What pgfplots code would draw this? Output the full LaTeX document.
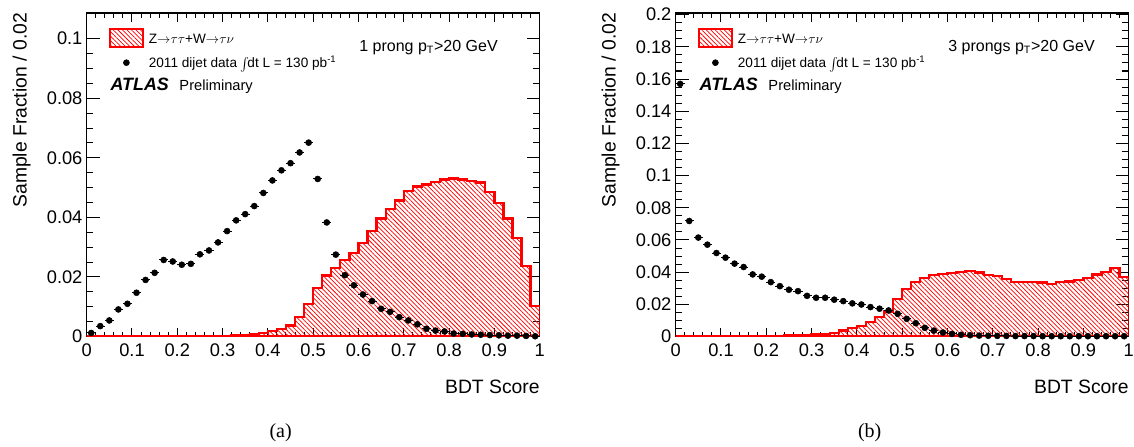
\documentclass[border=0pt]{standalone}
\usepackage{fontspec}
\setmainfont{Liberation Sans}
\newfontfamily\seriffont{Liberation Serif}
\usepackage{pgfplots}
\pgfplotsset{compat=1.18}
\usetikzlibrary{patterns.meta}

\pgfplotsset{
  atlas/.style={
    scale only axis, width=339.75pt, height=242.6pt,
    anchor=south west,
    xmin=0, xmax=1, ymin=0,
    xtick={0,0.1,0.2,0.3,0.4,0.5,0.6,0.7,0.8,0.9,1},
    minor x tick num=4, minor y tick num=3,
    tick align=inside,
    xtick pos=both, ytick pos=both,
    axis line style={line width=1.1pt},
    tick style={line width=0.75pt, black},
    xtick style={/pgfplots/major tick length=6.75pt,/pgfplots/minor tick length=3.4pt},
    ytick style={/pgfplots/major tick length=9.75pt,/pgfplots/minor tick length=4.9pt},
    scaled y ticks=false, scaled x ticks=false,
    /pgf/number format/fixed, /pgf/number format/precision=2,
    /pgf/number format/assume math mode=true,
    tick label style={font=\fontsize{13.7pt}{16pt}\selectfont},
    xticklabel style={inner sep=0pt, yshift=-5.25pt},
    yticklabel style={inner sep=0pt, xshift=-3pt},
    legend style={at={(0.0499,0.9527)}, anchor=north west, draw=none, fill=none,
      inner sep=0pt, outer sep=0pt, row sep=7.3pt, column sep=4pt,
      font=\fontsize{10.2pt}{12pt}\selectfont,
      nodes={inner sep=0pt, text height=7.3pt, text depth=0pt}},
    legend cell align=left,
  },
  hist/.style={const plot, draw=red, line width=1.7pt,
    pattern={Lines[angle=-45,distance=2.4pt,line width=0.55pt]}, pattern color=red,
    legend image code/.code={\draw[##1, line width=1.5pt] (0pt,-6.65pt) rectangle (24.2pt,6.65pt);}},
  dat/.style={only marks, mark=*, mark size=2.25pt, black,
    error bars/.cd, x dir=both, x fixed=0.01, error mark=none,
    error bar style={line width=0.75pt, black}, /pgfplots/.cd,
    legend image code/.code={\draw[mark repeat=2,mark phase=2,##1] plot coordinates {(0pt,0pt) (12.1pt,0pt) (24.2pt,0pt)};}},
}

\tikzset{lbl/.style={inner sep=0pt, outer sep=0pt}}
\newcommand{\sigtext}{Z${\rightarrow}\tau\tau$+W${\rightarrow}\tau\nu$}
\newcommand{\dattext}{2011 dijet data \raisebox{-0.15ex}{\large$\int$}\!dt L = 130 pb\textsuperscript{-1}}

\begin{document}
\begin{tikzpicture}
\useasboundingbox (-65pt,-82.1pt) rectangle (785.5pt,252.4pt);

% ---------------- (a) 1 prong ----------------
\begin{axis}[atlas, at={(0pt,0pt)}, ymax=0.1086,
  ytick={0,0.02,0.04,0.06,0.08,0.1}]
\addplot[hist] coordinates {
(0.00,0.0001) (0.02,0.0001) (0.04,0.0001) (0.06,0.0001) (0.08,0.0001)
(0.10,0.0001) (0.12,0.0001) (0.14,0.0001) (0.16,0.0001) (0.18,0.0001)
(0.20,0.0001) (0.22,0.0001) (0.24,0.0001) (0.26,0.0002) (0.28,0.0002)
(0.30,0.0003) (0.32,0.0004) (0.34,0.0006) (0.36,0.0008) (0.38,0.0012)
(0.40,0.0018) (0.42,0.0026) (0.44,0.0037) (0.46,0.0065) (0.48,0.0108)
(0.50,0.0164) (0.52,0.0205) (0.54,0.0231) (0.56,0.0258) (0.58,0.0281)
(0.60,0.0315) (0.62,0.0355) (0.64,0.0396) (0.66,0.0427) (0.68,0.0457)
(0.70,0.0488) (0.72,0.0504) (0.74,0.0510) (0.76,0.0519) (0.78,0.0527)
(0.80,0.0531) (0.82,0.0527) (0.84,0.0521) (0.86,0.0517) (0.88,0.0486)
(0.90,0.0449) (0.92,0.0396) (0.94,0.0332) (0.96,0.0238) (0.98,0.0103)
(1.00,0.0103)} \closedcycle;
\addlegendentry{\sigtext}
\addplot[dat] coordinates {
(0.01,0.0012) (0.03,0.0035) (0.05,0.0054) (0.07,0.0091) (0.09,0.0110)
(0.11,0.0147) (0.13,0.0190) (0.15,0.0214) (0.17,0.0257) (0.19,0.0252)
(0.21,0.0241) (0.23,0.0244) (0.25,0.0276) (0.27,0.0289) (0.29,0.0316)
(0.31,0.0354) (0.33,0.0390) (0.35,0.0411) (0.37,0.0438) (0.39,0.0482)
(0.41,0.0524) (0.43,0.0558) (0.45,0.0582) (0.47,0.0618) (0.49,0.0651)
(0.51,0.0529) (0.53,0.0383) (0.55,0.0275) (0.57,0.0206) (0.59,0.0172)
(0.61,0.0141) (0.63,0.0119) (0.65,0.0093) (0.67,0.0083) (0.69,0.0065)
(0.71,0.0054) (0.73,0.0041) (0.75,0.0026) (0.77,0.0020) (0.79,0.0017)
(0.81,0.0010) (0.83,0.0009) (0.85,0.0007) (0.87,0.0006) (0.89,0.0005)
(0.91,0.0004) (0.93,0.0003) (0.95,0.0003) (0.97,0.0002) (0.99,0.0001)};
\addlegendentry{\dattext}
\end{axis}

% ---------------- (b) 3 prongs ----------------
\begin{axis}[atlas, at={(441.75pt,0pt)}, ymax=0.201,
  ytick={0,0.02,0.04,0.06,0.08,0.1,0.12,0.14,0.16,0.18,0.2}]
\addplot[hist] coordinates {
(0.00,0.0002) (0.02,0.0002) (0.04,0.0002) (0.06,0.0002) (0.08,0.0002)
(0.10,0.0002) (0.12,0.0002) (0.14,0.0002) (0.16,0.0003) (0.18,0.0003)
(0.20,0.0004) (0.22,0.0005) (0.24,0.0006) (0.26,0.0008) (0.28,0.0010)
(0.30,0.0013) (0.32,0.0017) (0.34,0.0023) (0.36,0.0037) (0.38,0.0052)
(0.40,0.0067) (0.42,0.0089) (0.44,0.0120) (0.46,0.0156) (0.48,0.0231)
(0.50,0.0297) (0.52,0.0338) (0.54,0.0366) (0.56,0.0382) (0.58,0.0390)
(0.60,0.0394) (0.62,0.0403) (0.64,0.0405) (0.66,0.0398) (0.68,0.0382)
(0.70,0.0374) (0.72,0.0357) (0.74,0.0338) (0.76,0.0338) (0.78,0.0338)
(0.80,0.0336) (0.82,0.0328) (0.84,0.0340) (0.86,0.0342) (0.88,0.0353)
(0.90,0.0366) (0.92,0.0386) (0.94,0.0403) (0.96,0.0426) (0.98,0.0370)
(1.00,0.0370)} \closedcycle;
\addlegendentry{\sigtext}
\addplot[dat] coordinates {
(0.01,0.1570) (0.03,0.0718) (0.05,0.0615) (0.07,0.0571) (0.09,0.0519)
(0.11,0.0490) (0.13,0.0453) (0.15,0.0432) (0.17,0.0386) (0.19,0.0372)
(0.21,0.0338) (0.23,0.0313) (0.25,0.0291) (0.27,0.0282) (0.29,0.0253)
(0.31,0.0241) (0.33,0.0241) (0.35,0.0229) (0.37,0.0220) (0.39,0.0206)
(0.41,0.0199) (0.43,0.0183) (0.45,0.0173) (0.47,0.0162) (0.49,0.0141)
(0.51,0.0110) (0.53,0.0083) (0.55,0.0054) (0.57,0.0037) (0.59,0.0025)
(0.61,0.0016) (0.63,0.0011) (0.65,0.0008) (0.67,0.0006) (0.69,0.0005)
(0.71,0.0004) (0.73,0.0004) (0.75,0.0003) (0.77,0.0003) (0.79,0.0003)
(0.81,0.0002) (0.83,0.0002) (0.85,0.0002) (0.87,0.0002) (0.89,0.0002)
(0.91,0.0002) (0.93,0.0002) (0.95,0.0002) (0.97,0.0002) (0.99,0.0002)};
\addlegendentry{\dattext}
\end{axis}

% ---------------- texts ----------------
\foreach \dx/\txt/\cap in {0pt/1 prong/(a), 441.75pt/3 prongs/(b)}{
  \begin{scope}[xshift=\dx]
  \node[lbl, rotate=90, anchor=base east, font=\fontsize{14.5pt}{17pt}\selectfont]
    at (-45pt,242.6pt) {Sample Fraction / 0.02};
  \node[lbl, anchor=base east, font=\fontsize{14.5pt}{17pt}\selectfont]
    at (339.75pt,-42.4pt) {BDT Score};
  \node[lbl, anchor=base, font=\seriffont\fontsize{15pt}{17pt}\selectfont]
    at (145.5pt,-75.4pt) {\cap};
  \node[lbl, anchor=base west, font=\bfseries\itshape\fontsize{13.4pt}{15pt}\selectfont]
    at (18pt,184.4pt) {ATLAS};
  \node[lbl, anchor=base west, font=\fontsize{11pt}{13pt}\selectfont]
    at (69.6pt,184.4pt) {Preliminary};
  \node[lbl, anchor=base west, font=\fontsize{12pt}{14pt}\selectfont]
    at (204.5pt,214.1pt) {\txt{} p\textsubscript{T}>20 GeV};
  \end{scope}
}
\end{tikzpicture}
\end{document}
